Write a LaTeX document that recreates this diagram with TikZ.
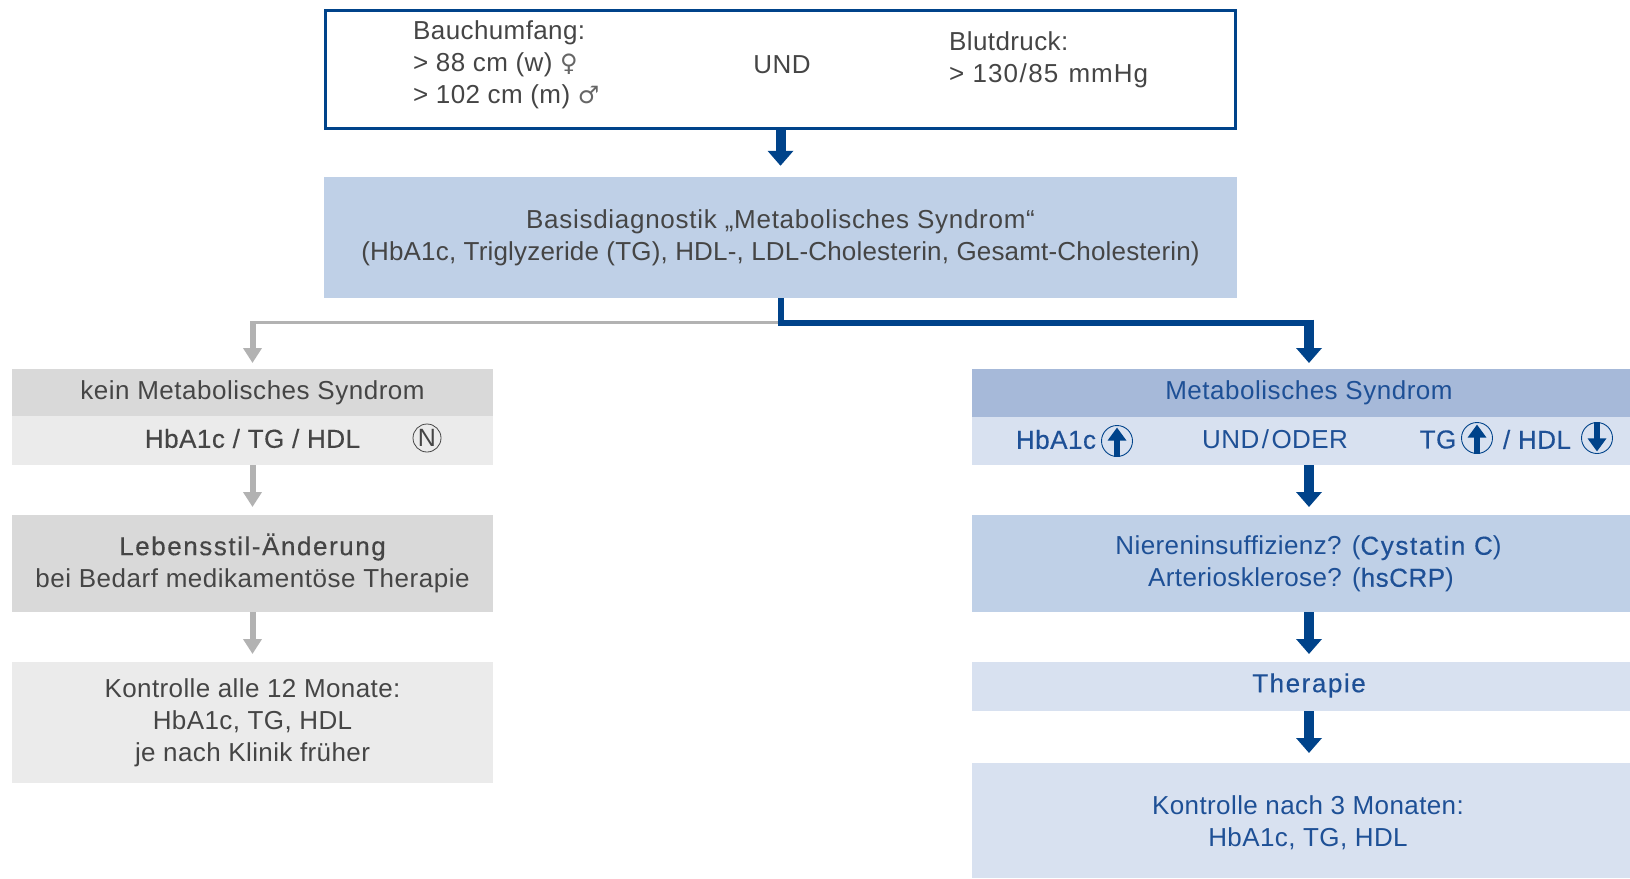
\documentclass[tikz,border=0pt]{standalone}
\usepackage{fontspec}
\setmainfont[LetterSpace=1.5]{Liberation Sans}
\newfontfamily\symfont{DejaVu Sans}
\newfontfamily\medfont[FakeBold=0.35,LetterSpace=6]{Liberation Sans}
\newfontfamily\medfontb[FakeBold=0.35,LetterSpace=2]{Liberation Sans}
\usetikzlibrary{arrows.meta,shapes.geometric,positioning,calc}
\definecolor{navy}{HTML}{00438A}
\definecolor{bluetext}{HTML}{1E5096}
\definecolor{greytext}{HTML}{454545}
\definecolor{symtext}{HTML}{666666}
\definecolor{blueA}{HTML}{A6B9D9}
\definecolor{blueB}{HTML}{BFD0E7}
\definecolor{blueC}{HTML}{D8E1F0}
\definecolor{greyA}{HTML}{D9D9D9}
\definecolor{greyB}{HTML}{EBEBEB}
\definecolor{greyArrow}{HTML}{B2B2B2}
\newcommand{\slashgap}{\hspace{2.5pt}/\hspace{2.5pt}}
\tikzset{
  x=1pt,y=-1pt,
  txt/.style={font=\fontsize{26}{32}\selectfont,text=greytext,align=center,inner sep=0pt},
  btxt/.style={txt,text=bluetext},
  lbox/.style={txt,minimum width=481pt,inner sep=0pt},
  rbox/.style={btxt,minimum width=658pt,inner sep=0pt},
  bluearrow/.style={draw=navy,line width=10pt,-{Triangle[length=15pt,width=25pt]},shorten >=7pt},
  greyarrow/.style={draw=greyArrow,line width=6pt,-{Triangle[length=15pt,width=18pt]},shorten >=7pt},
  iconup/.style={circle,draw=navy,line width=0.9pt,minimum size=31pt,inner sep=0pt},
  iconarrow/.style={draw=navy,line width=6pt,-{Triangle[length=13pt,width=18pt]},shorten >=2.5pt},
}
\begin{document}
\begin{tikzpicture}
\useasboundingbox (0,0) rectangle (1630,878);
% top row
\node[draw=navy,line width=2.6pt,minimum width=910pt,minimum height=118pt,inner sep=0pt] (top) at (780.5,69.5) {};
\node[txt,anchor=west,align=left] (bauch) at (413,65) {Bauchumfang:\\{}> 88 cm (w) {\symfont\color{symtext}\fontsize{24}{32}\selectfont ♀}\\{}> 102 cm (m) {\symfont\color{symtext}\fontsize{24}{32}\selectfont ♂}};
\node[txt] (und) at (782,65) {UND};
\node[txt,anchor=west,align=left] (blut) at (949,60) {Blutdruck:\\{\addfontfeature{LetterSpace=4}> 130\hspace{1.5pt}/\hspace{1.5pt}85\hspace{2pt} mmHg}};
\node[txt,fill=blueB,minimum width=913pt,minimum height=121pt] (basis) at (780.5,237.5) {{\addfontfeature{LetterSpace=2.8}Basisdiagnostik „Metabolisches Syndrom“}\\{\addfontfeature{LetterSpace=0.7}(HbA1c, Triglyzeride (TG), HDL-, LDL-Cholesterin, Gesamt-Cholesterin)}};
% left column
\node[lbox,fill=greyA,minimum height=47pt] (kein) at (252.5,392.5) {};
\node[txt] (keint) at (252.5,393) {\addfontfeature{LetterSpace=2}kein Metabolisches Syndrom};
\node[lbox,fill=greyB,minimum height=49pt] (keinsub) at (252.5,440.5) {};
\node[txt,font=\medfontb\fontsize{26}{32}\selectfont] (hbn) at (252.5,438.5) {HbA1c / TG / HDL};
\node[draw=greytext,circle,line width=0.8pt,minimum size=28pt,inner sep=0pt,text=greytext,font=\fontsize{25}{25}\selectfont] (n) at (427,438) {N};
\node[lbox,fill=greyA,minimum height=97pt] (leben) at (252.5,563.5) {};
\node[txt] (lebent) at (252.5,563) {{\medfont Lebensstil-Änderung}\\{\addfontfeature{LetterSpace=2}bei Bedarf medikamentöse Therapie}};
\node[lbox,fill=greyB,minimum height=121pt] (kontrL) at (252.5,722.5) {Kontrolle alle 12 Monate:\\HbA1c, TG, HDL\\je nach Klinik früher};
% right column
\node[rbox,fill=blueA,minimum height=48pt] (ms) at (1301,393) {};
\node[btxt] (mst) at (1309,393) {\addfontfeature{LetterSpace=2}Metabolisches Syndrom};
\node[rbox,fill=blueC,minimum height=48pt] (mssub) at (1301,441) {};
\node[btxt,font=\medfontb\fontsize{26}{32}\selectfont] (hb) at (1056,439.5) {HbA1c};
\node[iconup] (hbup) at (1117,441) {};
\node[btxt] (undoder) at (1275,439.5) {UND\slashgap ODER};
\node[btxt,font=\medfontb\fontsize{26}{32}\selectfont] (tg) at (1438,439.5) {TG};
\node[iconup] (tgup) at (1477,438) {};
\node[btxt,font=\medfontb\fontsize{26}{32}\selectfont] (hdl) at (1537,439.5) {/ HDL};
\node[iconup] (hdldn) at (1597,438) {};
\node[rbox,fill=blueB,minimum height=97pt] (nier) at (1301,563.5) {};
\node[btxt] (niert) at (1301,564) {\hspace{15pt}Niereninsuffizienz? ({\medfont Cystatin C})\\Arteriosklerose? ({\medfontb hsCRP})};
\node[rbox,fill=blueC,minimum height=49pt] (ther) at (1301,686.5) {};
\node[btxt,font=\medfont\fontsize{26}{32}\selectfont] (thert) at (1309,685.5) {Therapie};
\node[rbox,fill=blueC,minimum height=115pt] (kontrR) at (1301,820.5) {};
\node[btxt] (kontrRt) at (1308,822.5) {Kontrolle nach 3 Monaten:\\HbA1c, TG, HDL};
% junctions
\coordinate (jl) at (252.5,322.5);
\coordinate (jr) at (1309,322.5);
\coordinate (keintop) at (252.5,369);
\coordinate (mstop) at (1309,369);
\coordinate (keinbot) at (252.5,465);
\coordinate (lebtop) at (252.5,515);
\coordinate (lebbot) at (252.5,612);
\coordinate (kontrLtop) at (252.5,662);
\coordinate (msbot) at (1309,465);
\coordinate (niertop) at (1309,515);
\coordinate (nierbot) at (1309,612);
\coordinate (thertop) at (1309,662);
\coordinate (therbot) at (1309,711);
\coordinate (kontrRtop) at (1309,763);
% connectors
\draw[bluearrow,shorten >=11pt] (top.south) -- (basis.north);
\draw[draw=greyArrow,line width=3pt] (basis.south |- jl) -- (jl);
\draw[greyarrow,shorten <=-1.5pt,shorten >=6pt] (jl) -- (keintop);
\draw[greyarrow,shorten >=8pt] (keinbot) -- (lebtop);
\draw[greyarrow,shorten >=8pt] (lebbot) -- (kontrLtop);
\draw[draw=navy,line width=6pt,miter limit=4] (basis.south) |- ($(jr)+(5,0)$);
\draw[bluearrow,shorten <=-3pt,shorten >=6pt] (jr) -- (mstop);
\draw[bluearrow,shorten >=8pt] (msbot) -- (niertop);
\draw[bluearrow,shorten >=8pt] (nierbot) -- (thertop);
\draw[bluearrow,shorten >=10pt] (therbot) -- (kontrRtop);
% icons
\draw[iconarrow] (hbup.south) -- (hbup.north);
\draw[iconarrow] (tgup.south) -- (tgup.north);
\draw[iconarrow] (hdldn.north) -- (hdldn.south);
\end{tikzpicture}
\end{document}
